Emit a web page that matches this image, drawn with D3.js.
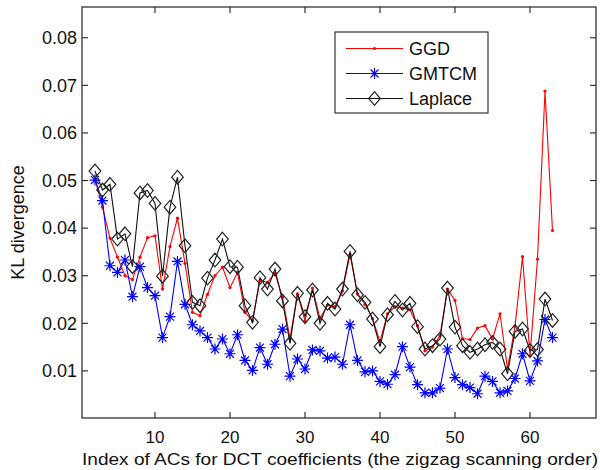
<!DOCTYPE html>
<html>
<head>
<meta charset="utf-8">
<script src="https://cdn.jsdelivr.net/npm/d3@7"></script>
<style>
  body { margin: 0; background: #fff; }
  text { font-family: "Liberation Sans", Arial, sans-serif; fill: #111; }
</style>
</head>
<body>
<svg id="chart" width="600" height="470"></svg>
<script>
// index of AC coefficient (zigzag order)
const acIndex = [2,3,4,5,6,7,8,9,10,11,12,13,14,15,16,17,18,19,20,21,22,23,24,25,26,27,28,29,30,31,32,
  33,34,35,36,37,38,39,40,41,42,43,44,45,46,47,48,49,50,51,52,53,54,55,56,57,58,59,60,61,62,63];

const ggd = [0.0504,0.0444,0.0379,0.0339,0.0300,0.0292,0.0339,0.0380,0.0384,0.0272,0.0361,0.0421,
  0.0326,0.0223,0.0216,0.0261,0.0300,0.0318,0.0275,0.0307,0.0223,0.0205,0.0290,0.0286,0.0305,0.0255,
  0.0168,0.0262,0.0205,0.0274,0.0210,0.0238,0.0235,0.0268,0.0345,0.0262,0.0240,0.0210,0.0162,0.0220,
  0.0235,0.0232,0.0228,0.0195,0.0142,0.0150,0.0174,0.0272,0.0248,0.0168,0.0166,0.0190,0.0195,0.0167,
  0.0220,0.0105,0.0193,0.0340,0.0132,0.0335,0.0688,0.0395];

const gmtcm = [0.0501,0.0458,0.0321,0.0307,0.0333,0.0256,0.0319,0.0275,0.0258,0.0170,0.0214,0.0330,
  0.0240,0.0197,0.0184,0.0170,0.0146,0.0167,0.0136,0.0176,0.0122,0.0101,0.0149,0.0114,0.0156,0.0188,
  0.0089,0.0125,0.0104,0.0144,0.0142,0.0127,0.0129,0.0114,0.0197,0.0122,0.0098,0.0100,0.0078,0.0072,
  0.0092,0.0151,0.0108,0.0071,0.0054,0.0054,0.0064,0.0146,0.0086,0.0071,0.0065,0.0052,0.0089,0.0078,
  0.0054,0.0058,0.0084,0.0136,0.0079,0.0121,0.0208,0.0170];

const laplace = [0.0520,0.0480,0.0492,0.0377,0.0388,0.0319,0.0474,0.0479,0.0452,0.0299,0.0444,0.0507,
  0.0363,0.0244,0.0237,0.0295,0.0333,0.0377,0.0319,0.0318,0.0237,0.0202,0.0296,0.0272,0.0314,0.0247,
  0.0158,0.0263,0.0214,0.0270,0.0200,0.0242,0.0230,0.0272,0.0351,0.0260,0.0244,0.0209,0.0151,0.0218,
  0.0246,0.0228,0.0242,0.0193,0.0146,0.0153,0.0167,0.0274,0.0192,0.0153,0.0139,0.0146,0.0155,0.0160,
  0.0146,0.0094,0.0183,0.0188,0.0143,0.0145,0.0251,0.0206];

const xTicks = [10,20,30,40,50,60];
const yTicks = [0.01,0.02,0.03,0.04,0.05,0.06,0.07,0.08];
const seriesNames = ["GGD","GMTCM","Laplace"];

const svg = d3.select("#chart");
const box = {left: 82, right: 596, top: 7, bottom: 418};

const x = d3.scaleLinear().domain([0.27, 68.8]).range([box.left, box.right]);
const y = d3.scaleLinear().domain([0.0000, 0.0864]).range([418.5, 7.3]);

// frame
svg.append("rect")
  .attr("x", box.left).attr("y", box.top)
  .attr("width", box.right - box.left).attr("height", box.bottom - box.top)
  .attr("fill", "none").attr("stroke", "#222").attr("stroke-width", 1.2);

// ticks (inward, mirrored)
const tl = 6;
const tickG = svg.append("g").attr("stroke", "#222").attr("stroke-width", 1.1);
xTicks.forEach(t => {
  tickG.append("line").attr("x1", x(t)).attr("x2", x(t)).attr("y1", box.bottom).attr("y2", box.bottom - tl);
  tickG.append("line").attr("x1", x(t)).attr("x2", x(t)).attr("y1", box.top).attr("y2", box.top + tl);
});
yTicks.forEach(t => {
  tickG.append("line").attr("x1", box.left).attr("x2", box.left + tl).attr("y1", y(t)).attr("y2", y(t));
  tickG.append("line").attr("x1", box.right).attr("x2", box.right - tl).attr("y1", y(t)).attr("y2", y(t));
});

svg.append("g").selectAll("text").data(xTicks).join("text")
  .attr("x", d => x(d)).attr("y", box.bottom + 25)
  .attr("text-anchor", "middle").attr("font-size", 17)
  .text(d => d);

svg.append("g").selectAll("text").data(yTicks).join("text")
  .attr("x", box.left - 5).attr("y", d => y(d)).attr("dy", "0.35em")
  .attr("text-anchor", "end").attr("font-size", 18)
  .text(d => d3.format(".2f")(d));

svg.append("text")
  .attr("x", (box.left + box.right) / 2 + 1).attr("y", 465)
  .attr("text-anchor", "middle").attr("font-size", 16)
  .attr("textLength", 516).attr("lengthAdjust", "spacingAndGlyphs")
  .text("Index of ACs for DCT coefficients (the zigzag scanning order)");

svg.append("text")
  .attr("transform", `translate(24,${(box.top + box.bottom) / 2 + 10}) rotate(-90)`)
  .attr("text-anchor", "middle").attr("font-size", 18)
  .text("KL divergence");

const line = d3.line().x((d, i) => x(acIndex[i])).y(d => y(d));
const plot = svg.append("g");

// marker painters
function dotMarker(g) {
  g.append("circle").attr("r", 1.6).attr("fill", "#ff0000");
}
function starMarker(g) {
  const r = 5.5, s = r * 0.72;
  g.append("path")
    .attr("d", `M${-r},0L${r},0M0,${-r}L0,${r}M${-s},${-s}L${s},${s}M${-s},${s}L${s},${-s}`)
    .attr("stroke", "#0000ff").attr("stroke-width", 1.2).attr("fill", "none");
}
function diamondMarker(g) {
  const w = 5.8, h = 6.8;
  g.append("path")
    .attr("d", `M0,${-h}L${w},0L0,${h}L${-w},0Z`)
    .attr("stroke", "#222").attr("stroke-width", 1.2).attr("fill", "none");
}

const series = [
  {name: seriesNames[0], values: ggd, color: "#ff0000", marker: dotMarker},
  {name: seriesNames[1], values: gmtcm, color: "#0000ff", marker: starMarker},
  {name: seriesNames[2], values: laplace, color: "#111", marker: diamondMarker}
];

series.forEach(s => {
  plot.append("path").datum(s.values)
    .attr("fill", "none").attr("stroke", s.color).attr("stroke-width", 1.1)
    .attr("d", line);
  s.values.forEach((v, i) => {
    const g = plot.append("g").attr("transform", `translate(${x(acIndex[i])},${y(v)})`);
    s.marker(g);
  });
});

// legend
const lg = svg.append("g");
lg.append("rect").attr("x", 335).attr("y", 32).attr("width", 153).attr("height", 81)
  .attr("fill", "#fff").attr("stroke", "#222").attr("stroke-width", 1.1);
series.forEach((s, i) => {
  const ly = 48.5 + i * 25;
  lg.append("line").attr("x1", 346).attr("x2", 403).attr("y1", ly).attr("y2", ly)
    .attr("stroke", s.color).attr("stroke-width", 1.1);
  const g = lg.append("g").attr("transform", `translate(374.5,${ly})`);
  s.marker(g);
  lg.append("text").attr("x", 409).attr("y", ly).attr("dy", "0.36em")
    .attr("font-size", 18).text(s.name);
});
</script>
</body>
</html>
